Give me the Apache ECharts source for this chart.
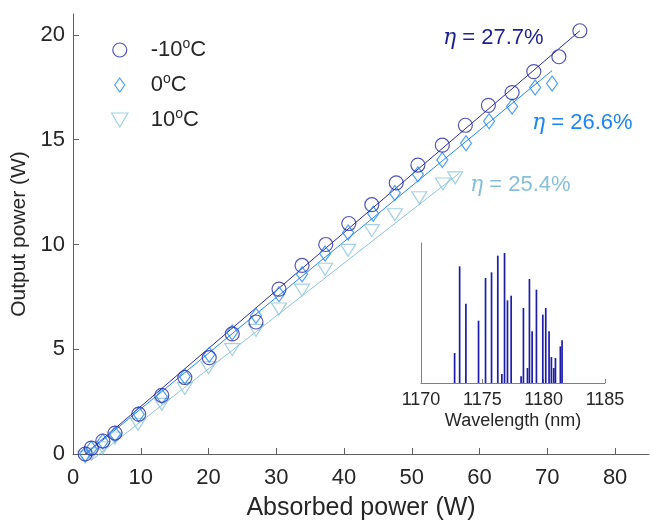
<!DOCTYPE html>
<html>
<head>
<meta charset="utf-8">
<script src="https://cdn.jsdelivr.net/npm/echarts@6/dist/echarts.min.js"></script>
<style>html,body{margin:0;padding:0;background:#fff;}#c{width:651px;height:526px;}</style>
</head>
<body>
<div id="c"></div>
<script>
// -10 °C (circles)
const coldX = [1.8, 2.7, 4.4, 6.2, 9.7, 13.1, 16.5, 20.1, 23.5, 27.0, 30.4, 33.8, 37.3, 40.7, 44.1, 47.7, 50.9, 54.5, 57.9, 61.3, 64.8, 68.0, 71.7, 74.8];
const coldY = [0.0, 0.28, 0.62, 1.0, 1.9, 2.8, 3.65, 4.6, 5.73, 6.3, 7.87, 9.0, 10.0, 11.0, 11.9, 12.94, 13.79, 14.74, 15.69, 16.64, 17.25, 18.25, 18.96, 20.2];
// 0 °C (diamonds)
const midX = [1.8, 2.7, 4.4, 6.2, 9.7, 13.1, 16.5, 20.1, 23.5, 27.0, 30.4, 33.8, 37.2, 40.6, 44.3, 47.5, 50.9, 54.5, 58.0, 61.4, 64.8, 68.2, 70.7];
const midY = [0.0, 0.25, 0.6, 0.95, 1.9, 2.75, 3.7, 4.74, 5.8, 6.6, 7.63, 8.58, 9.57, 10.57, 11.47, 12.46, 13.35, 14.03, 14.83, 15.88, 16.59, 17.49, 17.68];
// 10 °C (down triangles)
const warmX = [1.8, 2.7, 4.4, 6.2, 9.6, 13.1, 16.5, 20.0, 23.5, 27.0, 30.4, 33.8, 37.2, 40.6, 44.1, 47.5, 51.1, 54.6, 56.4];
const warmY = [-0.15, 0.0, 0.3, 0.76, 1.42, 2.37, 3.13, 4.12, 4.98, 5.9, 6.92, 7.82, 8.82, 9.72, 10.66, 11.42, 12.23, 12.89, 13.18];
// linear fits (start / end points)
const coldFitX = [1.8, 74.8];
const coldFitY = [0.0, 20.2];
const midFitX = [1.9, 70.7];
const midFitY = [0.0, 18.3];
const warmFitX = [2.7, 57.0];
const warmFitY = [-0.3, 13.4];
// inset spectrum
const specWl = [1172.74, 1173.15, 1173.66, 1174.69, 1175.26, 1175.75, 1176.26, 1176.59, 1176.81, 1177.05, 1177.35, 1178.16, 1178.35, 1178.68, 1178.84, 1179.06, 1179.41, 1179.93, 1180.17, 1180.44, 1180.63, 1180.82, 1180.96, 1181.36, 1181.50];
const specI = [90, 350, 238, 187, 315, 332, 382, 27, 390, 248, 262, 20, 225, 45, 312, 155, 280, 205, 225, 155, 78, 45, 75, 110, 128];
// ticks
const xTicks = [0, 10, 20, 30, 40, 50, 60, 70, 80];
const yTicks = [0, 5, 10, 15, 20];
const insetTicks = [1170, 1175, 1180, 1185];
const seriesNames = ['-10{sup|o}C', '0{sup|o}C', '10{sup|o}C'];
const etaLabels = ['27.7%', '26.6%', '25.4%'];

const cCold = '#2b2ba2', cMid = '#2387f2', cWarm = '#8ec4da';
const zip = (a, b) => a.map((v, i) => [v, b[i]]);
const FONT = '"Liberation Sans", Arial, sans-serif';
const SERIF = '"DejaVu Serif", "Liberation Serif", serif';
const axisCol = '#5f5f5f', txtCol = '#262626';

const diamondPath = 'path://M0,-7L5,0L0,7L-5,0Z';
const triPath = 'path://M-7,-6L7,-6L0,6Z';

const chart = echarts.init(document.getElementById('c'), null, {renderer: 'canvas'});
const option = {
  animation: false,
  backgroundColor: '#ffffff',
  textStyle: {fontFamily: FONT},
  grid: [
    {left: 73, right: 2, top: 14, bottom: 68, containLabel: false},
    {left: 421, width: 184, top: 243, height: 140, containLabel: false}
  ],
  xAxis: [
    {
      gridIndex: 0, type: 'value', min: 0, max: 85,
      axisLine: {lineStyle: {color: axisCol, width: 1}},
      axisTick: {inside: true, length: 6, lineStyle: {color: axisCol}, customValues: xTicks},
      axisLabel: {fontSize: 22, color: txtCol, fontFamily: FONT, margin: 13, customValues: xTicks},
      splitLine: {show: false},
      name: 'Absorbed power (W)', nameLocation: 'middle', nameGap: 42,
      nameTextStyle: {fontSize: 25, color: txtCol, fontFamily: FONT}
    },
    {
      gridIndex: 1, type: 'value', min: 1170, max: 1185, interval: 5,
      axisLine: {lineStyle: {color: '#808080', width: 1}},
      axisTick: {inside: true, length: 4, lineStyle: {color: '#808080'}, customValues: insetTicks},
      axisLabel: {fontSize: 18, color: txtCol, fontFamily: FONT, margin: 8, customValues: insetTicks,
                  formatter: v => String(v)},
      splitLine: {show: false},
      name: 'Wavelength (nm)', nameLocation: 'middle', nameGap: 29,
      nameTextStyle: {fontSize: 18, color: txtCol, fontFamily: FONT}
    }
  ],
  yAxis: [
    {
      gridIndex: 0, type: 'value', min: 0, max: 21,
      axisLine: {lineStyle: {color: axisCol, width: 1}},
      axisTick: {inside: true, length: 6, lineStyle: {color: axisCol}, customValues: yTicks},
      axisLabel: {fontSize: 22, color: txtCol, fontFamily: FONT, margin: 8, customValues: yTicks},
      splitLine: {show: false},
      name: 'Output power (W)', nameLocation: 'middle', nameGap: 32,
      nameTextStyle: {fontSize: 21, color: txtCol, fontFamily: FONT}
    },
    {
      gridIndex: 1, type: 'value', min: 0, max: 420,
      axisLine: {show: true, lineStyle: {color: '#808080', width: 1}},
      axisTick: {show: false}, axisLabel: {show: false}, splitLine: {show: false}
    }
  ],
  legend: {
    orient: 'vertical', left: 106, top: 32,
    itemWidth: 52, itemHeight: 14, itemGap: 9,
    symbolKeepAspect: true,
    data: [
      {name: seriesNames[0], itemStyle: {color: 'transparent', borderColor: cCold, borderWidth: 1.2}},
      {name: seriesNames[1], icon: diamondPath, itemStyle: {color: 'transparent', borderColor: cMid, borderWidth: 1.2}},
      {name: seriesNames[2], icon: triPath, itemStyle: {color: 'transparent', borderColor: cWarm, borderWidth: 1.2}}
    ],
    textStyle: {
      fontSize: 22, color: txtCol, fontFamily: FONT, lineHeight: 26,
      rich: {sup: {fontSize: 14, verticalAlign: 'top', lineHeight: 14, fontFamily: FONT, color: txtCol}}
    }
  },
  series: [
    {type: 'line', xAxisIndex: 0, yAxisIndex: 0, data: zip(coldFitX, coldFitY), showSymbol: false, symbol: 'none',
     lineStyle: {color: cCold, width: 1}, silent: true, clip: false, z: 2},
    {type: 'line', xAxisIndex: 0, yAxisIndex: 0, data: zip(midFitX, midFitY), showSymbol: false, symbol: 'none',
     lineStyle: {color: cMid, width: 1}, silent: true, clip: false, z: 2},
    {type: 'line', xAxisIndex: 0, yAxisIndex: 0, data: zip(warmFitX, warmFitY), showSymbol: false, symbol: 'none',
     lineStyle: {color: cWarm, width: 1}, silent: true, clip: false, z: 2},
    {name: seriesNames[2], type: 'scatter', xAxisIndex: 0, yAxisIndex: 0, data: zip(warmX, warmY),
     symbol: triPath, symbolSize: [15, 12], clip: false,
     itemStyle: {color: 'transparent', borderColor: cWarm, borderWidth: 1.2}, z: 3},
    {name: seriesNames[1], type: 'scatter', xAxisIndex: 0, yAxisIndex: 0, data: zip(midX, midY),
     symbol: diamondPath, symbolSize: [11, 15], clip: false,
     itemStyle: {color: 'transparent', borderColor: cMid, borderWidth: 1.2}, z: 4},
    {name: seriesNames[0], type: 'scatter', xAxisIndex: 0, yAxisIndex: 0, data: zip(coldX, coldY),
     symbol: 'circle', symbolSize: 14, clip: false,
     itemStyle: {color: 'transparent', borderColor: cCold, borderWidth: 1.2}, z: 5},
    {type: 'bar', xAxisIndex: 1, yAxisIndex: 1, data: zip(specWl, specI), barWidth: 1.7,
     itemStyle: {color: '#1d1da8'}, silent: true}
  ],
  graphic: [
    {type: 'text', x: 443, y: 38, z: 10, style: {
      text: '{i|η} = ' + etaLabels[0], fill: '#1f1f94', font: '22px ' + FONT,
      align: 'left', verticalAlign: 'middle', textAlign: 'left', textVerticalAlign: 'middle',
      rich: {i: {fontFamily: SERIF, fontStyle: 'italic', fontSize: 22, fill: '#1f1f94'}}}},
    {type: 'text', x: 532, y: 123, z: 10, style: {
      text: '{i|η} = ' + etaLabels[1], fill: '#1c86f2', font: '22px ' + FONT,
      align: 'left', verticalAlign: 'middle', textAlign: 'left', textVerticalAlign: 'middle',
      rich: {i: {fontFamily: SERIF, fontStyle: 'italic', fontSize: 22, fill: '#1c86f2'}}}},
    {type: 'text', x: 470, y: 185, z: 10, style: {
      text: '{i|η} = ' + etaLabels[2], fill: '#88c0d8', font: '22px ' + FONT,
      align: 'left', verticalAlign: 'middle', textAlign: 'left', textVerticalAlign: 'middle',
      rich: {i: {fontFamily: SERIF, fontStyle: 'italic', fontSize: 22, fill: '#88c0d8'}}}}
  ]
};
chart.setOption(option);
</script>
</body>
</html>
